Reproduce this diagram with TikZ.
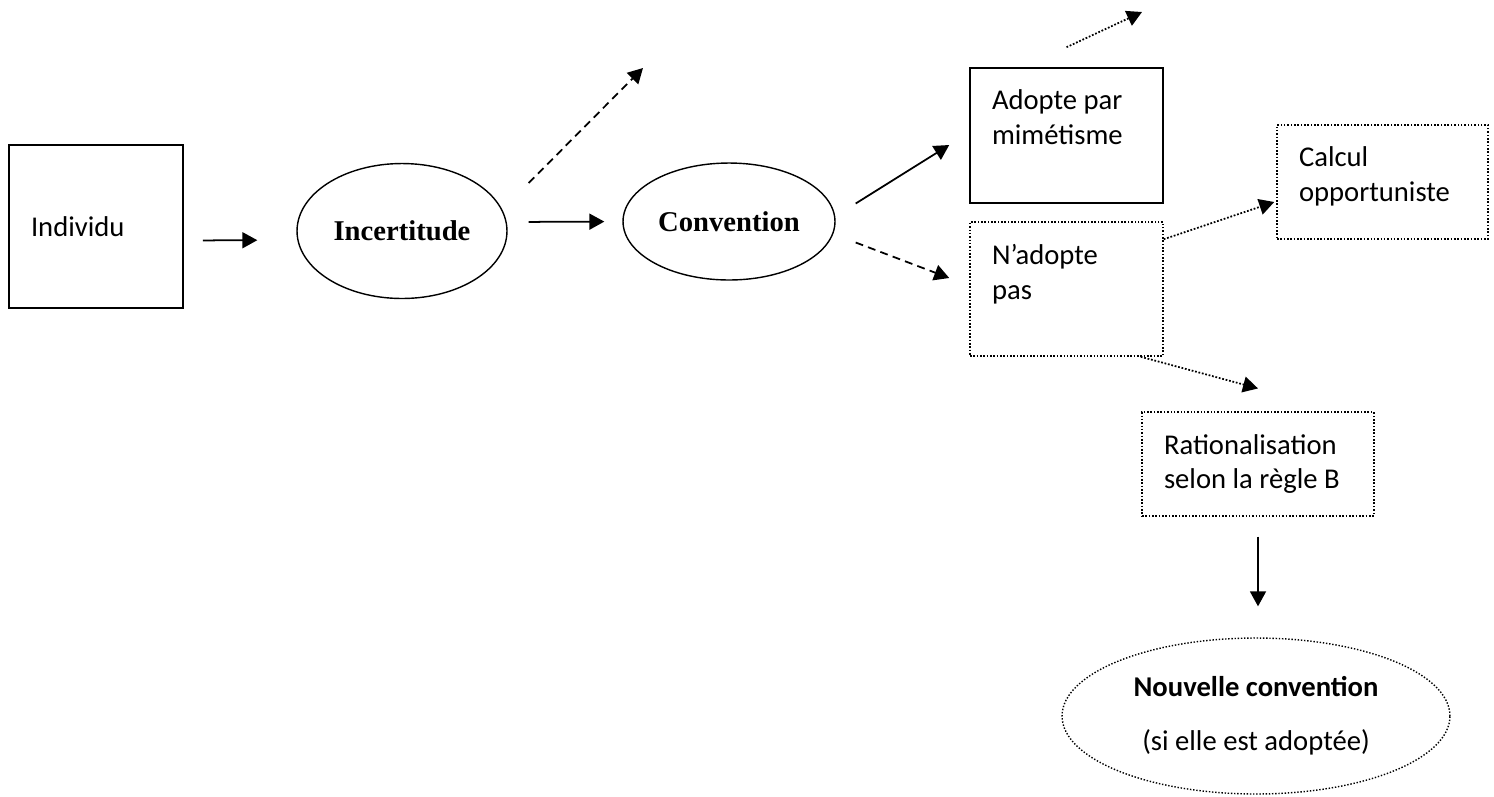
\documentclass[tikz,border=0pt]{standalone}
\usepackage{fontspec}
\setmainfont{Carlito}
\newfontfamily\timesfont{Liberation Serif}
\usetikzlibrary{shapes.geometric,arrows.meta}
\newcommand{\toptext}[3]{\parbox[t][#2][t]{#1}{\raggedright #3}}

\begin{document}
\begin{tikzpicture}[x=0.02cm,y=-0.02cm,
    >={Triangle[length=0.3cm,width=0.32cm]},
    every node/.style={font=\fontsize{16.3}{19.8}\selectfont},
    sbox/.style={draw,rectangle,line width=0.9pt,inner sep=0.44cm},
    dbox/.style={sbox,densely dotted},
    oval/.style={draw,ellipse,line width=0.8pt,inner sep=0pt},
    arr/.style={->,line width=1pt},
    dasharr/.style={arr,dash pattern=on 4.5pt off 3pt},
    dotarr/.style={arr,densely dotted}]
        \useasboundingbox (0,0) rectangle (1494,796);
        \node[sbox,text width=2.6cm,minimum height=3.26cm,align=flush left] (indiv) at (96,226.5) {Individu};
        \node[oval,minimum width=4.2cm,minimum height=2.7cm] (incert) at (402,231) {\timesfont\bfseries Incertitude};
        \node[oval,minimum width=4.24cm,minimum height=2.34cm] (conv) at (729,221.5) {\timesfont\bfseries Convention};
        \node[sbox] (adopte) at (1066.5,135.5) {\toptext{2.98cm}{1.82cm}{Adopte par\\mimétisme}};
        \node[dbox] (nadopte) at (1066.5,289) {\toptext{2.98cm}{1.8cm}{N’adopte\\pas}};
        \node[dbox] (calcul) at (1382.5,182) {\toptext{3.34cm}{1.4cm}{Calcul\\opportuniste}};
        \node[dbox,text width=3.76cm,minimum height=1.92cm,align=flush left] (ratio) at (1258,464) {Rationalisation\\selon la règle B};
        \node[oval,densely dotted,minimum width=7.76cm,minimum height=3.12cm,align=center] (nouv) at (1256,716) {\textbf{Nouvelle convention}\\[10.8pt](si elle est adoptée)};
        \coordinate (incertout) at (643,68);
        \coordinate (adopteout) at (1142,12);

        \draw[arr,shorten <=0.38cm,shorten >=0.78cm] ([yshift=-0.28cm]indiv.east) -- ([yshift=-0.18cm]incert.west);
        \draw[arr,shorten <=0.42cm,shorten >=0.36cm] ([yshift=0.18cm]incert.east) -- (conv.west);
        \draw[dasharr] ([xshift=0.42cm,yshift=0.96cm]incert.east) -- (incertout);
        \draw[arr] ([xshift=0.4cm,yshift=0.36cm]conv.east) -- ([xshift=-0.4cm,yshift=-0.19cm]adopte.west);
        \draw[dasharr] ([xshift=0.4cm,yshift=-0.42cm]conv.east) -- ([xshift=-0.4cm,yshift=0.22cm]nadopte.west);
        \draw[dotarr] ([yshift=0.4cm]adopte.north) -- (adopteout);
        \draw[dotarr] ([yshift=-0.36cm]nadopte.north east) -- ([xshift=-0.04cm,yshift=-0.4cm]calcul.west);
        \draw[dotarr] ([xshift=-0.46cm]nadopte.south east) -- ([yshift=0.46cm]ratio.north);
        \draw[arr,shorten <=0.4cm,shorten >=0.62cm] (ratio.south) -- (ratio.south |- nouv.north);
\end{tikzpicture}
\end{document}
